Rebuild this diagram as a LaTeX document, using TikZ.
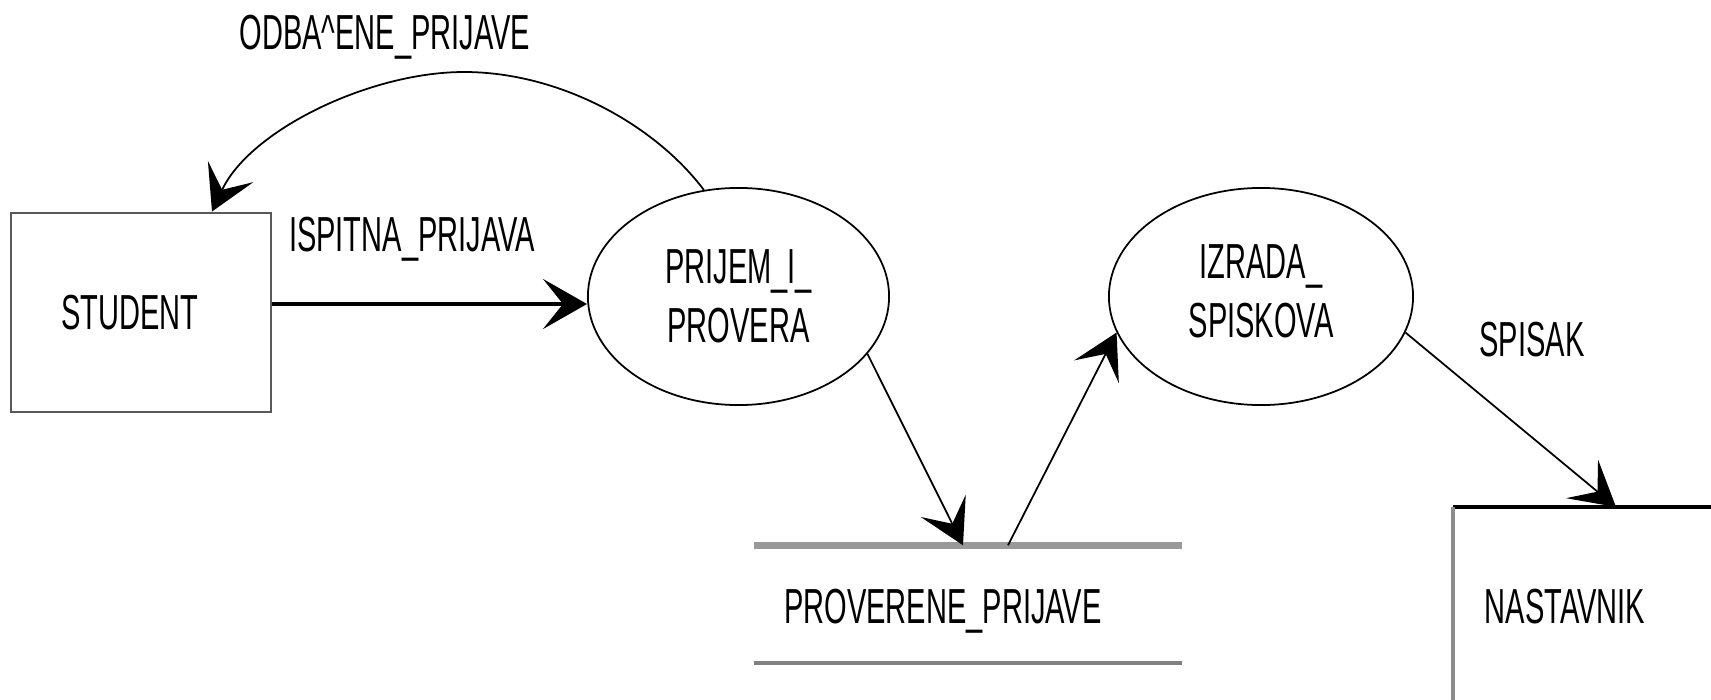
\documentclass[tikz,border=0pt]{standalone}
\usepackage{fontspec}
\newfontfamily\cnd[FakeStretch=0.59]{Liberation Sans}
\usetikzlibrary{arrows.meta,shapes.geometric,calc}
\begin{document}
\begin{tikzpicture}[x=0.01cm,y=-0.01cm,
  every node/.style={font=\cnd\fontsize{14}{16.8}\selectfont, inner sep=0pt},
  ent/.style={draw=black!65, line width=0.8pt, minimum width=2.6cm, minimum height=1.99cm},
  proc/.style={ellipse, draw, line width=0.5pt, minimum width=3.01cm, minimum height=2.17cm, align=center},
  flow/.style={line width=0.5pt, -{Stealth[length=0.44cm,width=0.5cm,inset=0.2cm]}},
  bigflow/.style={flow, line width=1pt},
  lbl/.style={anchor=base}]
\useasboundingbox (0,0) rectangle (1711,700);
% entities and processes
\node[ent] (student) at (141,312.5) {STUDENT\hspace*{0.22cm}};
\node[proc] (p1) at (738.5,296.5) {PRIJEM\_I\_\\PROVERA};
\node[proc, minimum width=3.04cm] (p2) at (1261,296.5) {IZRADA\_\\SPISKOVA\rule[-0.1cm]{0pt}{0pt}};
% data store
\node[minimum width=4.26cm, minimum height=1.16cm] (store) at (968,604) {};
\draw[black!40, line width=2pt] (store.north west) -- (store.north east);
\draw[black!50, line width=1.2pt] (store.south west) -- (store.south east);
\node[lbl] (storetxt) at (943,623) {PROVERENE\_PRIJAVE};
% external entity cut by the page edge
\node[anchor=north west, minimum width=2.58cm, minimum height=1.93cm] (nast) at (1453,507) {};
\draw[black, line width=0.9pt] (nast.north west) -- (nast.north east);
\draw[black!45, line width=0.9pt] (nast.north west) -- (nast.south west);
\node[lbl] (nasttxt) at (1565,623) {NASTAVNIK};
% flow labels
\node[lbl] (lodb) at (385,49) {ODBA\textasciicircum ENE\_PRIJAVE};
\node[lbl] (lisp) at (412,251) {ISPITNA\_PRIJAVA};
\node[lbl] (lspi) at (1532,356) {SPISAK};
% flows
\coordinate (ya) at (0,304);
\draw[bigflow] (student.east |- ya) -- (p1.west |- ya);
\draw[flow] (p1.108) .. controls (655,125) and (560,72) .. (464,72)
  .. controls (370,72) and (250,130) .. ($(student.north)+(71,0)$);
\draw[flow] (p1.-24) -- ($(store.north)+(-5,0)$);
\draw[flow] ($(store.north)+(40,0)$) -- (p2.194);
\draw[flow] (p2.-14) -- ($(nast.north west)+(163,0)$);
\end{tikzpicture}
\end{document}
